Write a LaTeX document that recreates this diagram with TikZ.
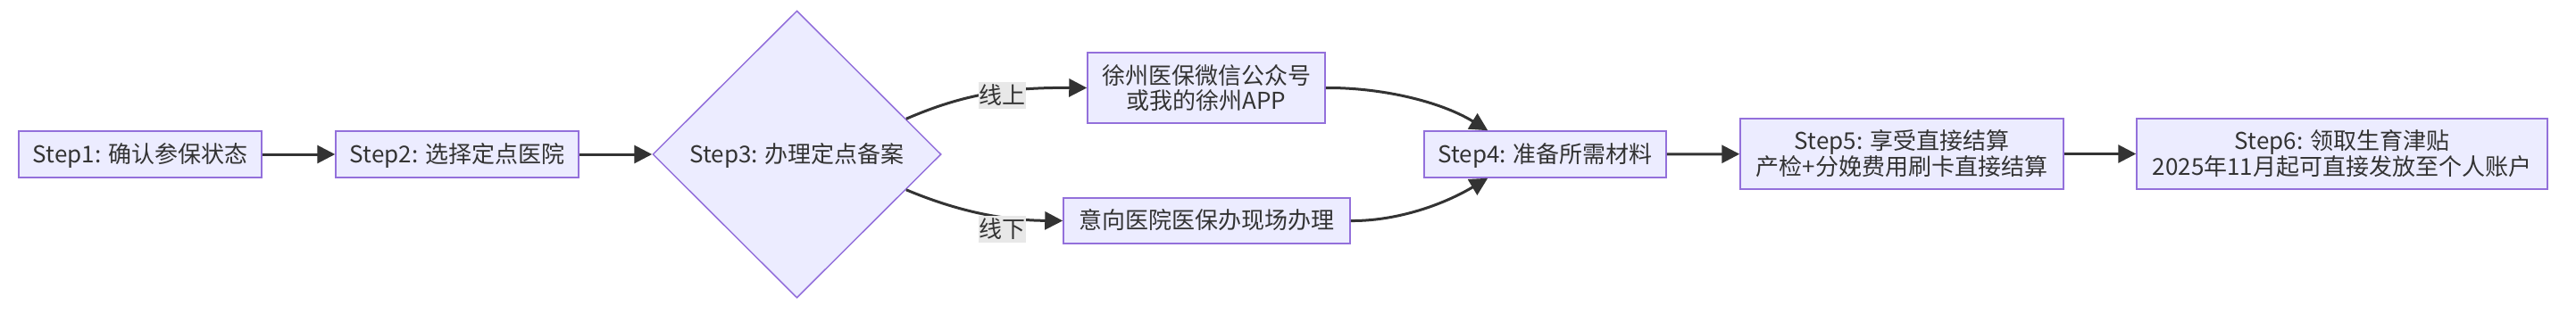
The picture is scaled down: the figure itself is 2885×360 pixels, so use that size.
\documentclass[tikz,border=0pt]{standalone}
\usepackage{fontspec}
\setmainfont{Noto Sans CJK SC}
\usetikzlibrary{shapes.geometric,arrows.meta}
\definecolor{nodefill}{HTML}{ECECFF}
\definecolor{nodeline}{HTML}{9370DB}
\definecolor{edgeline}{HTML}{333333}
\definecolor{labelbg}{HTML}{E8E8E8}
\definecolor{txt}{HTML}{333333}
\newcommand{\lowtext}[1]{\raisebox{-9pt}[0pt][0pt]{#1}}
\begin{document}
\begin{tikzpicture}[x=1pt,y=-1pt,
  box/.style={draw=nodeline,fill=nodefill,line width=1.5pt,inner sep=0pt,text=txt,align=center,font=\fontsize{26}{27.5}\selectfont},
  dia/.style={box,diamond},
  elabel/.style={fill=labelbg,inner sep=0pt,minimum width=53pt,minimum height=30pt,text=txt,font=\fontsize{26}{27.5}\selectfont},
  edge/.style={draw=edgeline,line width=3pt,-{Triangle[length=20pt,width=20pt]}}
]
\useasboundingbox (0,0) rectangle (2885,360);

\node[box,minimum width=272pt,minimum height=52pt] (s1) at (157,173) {\lowtext{Step1: 确认参保状态}};
\node[box,minimum width=272pt,minimum height=52pt] (s2) at (512,173) {\lowtext{Step2: 选择定点医院}};
\node[dia,minimum width=323pt,minimum height=322pt] (d) at (892.5,173) {\lowtext{Step3: 办理定点备案}};
\node[box,minimum width=266pt,minimum height=79pt] (a) at (1351,98.5) {徐州医保微信公众号\\或我的徐州APP};
\node[box,minimum width=321pt,minimum height=51pt] (b) at (1351.5,247.5) {\lowtext{意向医院医保办现场办理}};
\node[box,minimum width=271pt,minimum height=52pt] (s4) at (1730.5,173) {\lowtext{Step4: 准备所需材料}};
\node[box,minimum width=362pt,minimum height=79pt] (s5) at (2130,172.5) {Step5: 享受直接结算\\产检+分娩费用刷卡直接结算};
\node[box,minimum width=460pt,minimum height=79pt] (s6) at (2623,172.5) {Step6: 领取生育津贴\\2025年11月起可直接发放至个人账户};

\draw[edge] (s1) -- (s2);
\draw[edge] (s2) -- (d);
\draw[edge] (d.18) .. controls (1080,105) and (1130,98) .. (a.west);
\draw[edge] (d.-18) .. controls (1080,240) and (1130,247) .. (b.west);
\draw[edge] (a.east) .. controls (1545,98) and (1612,113) .. ([xshift=72pt]s4.north west);
\draw[edge] (b.east) .. controls (1560,248) and (1612,232) .. ([xshift=72pt]s4.south west);
\draw[edge] (s4) -- (s5);
\draw[edge] (s5) -- (s6);

\node[elabel] (l1) at (1122.5,107) {线上};
\node[elabel] (l2) at (1122.5,257) {线下};
\end{tikzpicture}
\end{document}
